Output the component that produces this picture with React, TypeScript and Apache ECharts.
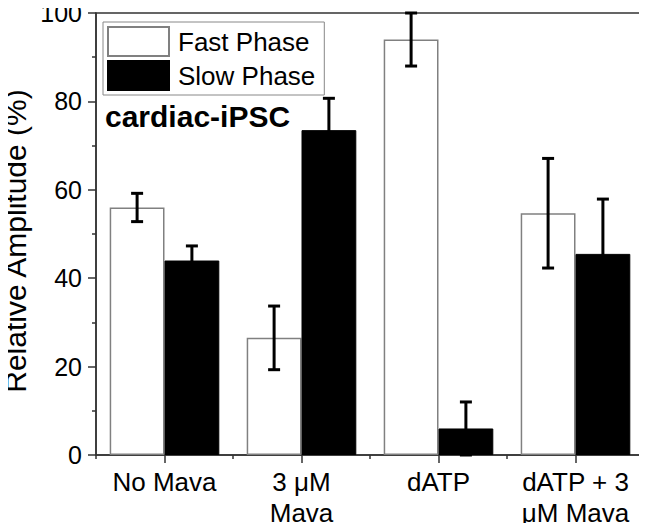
import React, { useEffect, useRef } from "react";
import * as echarts from "echarts";

const categories = ["No Mava", "3 μM\nMava", "dATP", "dATP + 3\nμM Mava"];
const fastValues = [56, 26.5, 94, 54.7];
const fastErrors = [3.2, 7.2, 6, 12.4];
const slowValues = [44, 73.5, 6, 45.5];
const slowErrors = [3.3, 7.2, 6, 12.4];
const yTicks = [0, 20, 40, 60, 80, 100];
const yAxisTitle = "Relative Amplitude (%)";
const panelTitle = "cardiac-iPSC";

const FONT = "'Liberation Sans', Arial, sans-serif";

function errorSeries(values: number[], errors: number[], side: number) {
  return {
    type: "custom",
    xAxisIndex: 0,
    yAxisIndex: 0,
    z: 5,
    silent: true,
    data: values.map((v, i) => [i, v, errors[i]]),
    renderItem: (params: any, api: any) => {
      const idx = api.value(0);
      const v = api.value(1);
      const e = api.value(2);
      const catW = api.size([1, 0])[0];
      const barW = (catW * 0.8) / 2;
      const c = api.coord([idx, v]);
      const x = c[0] + side * barW / 2;
      const top = api.coord([idx, Math.min(v + e, 100)])[1];
      const bot = api.coord([idx, Math.max(v - e, 0)])[1];
      const half = 6;
      const st = { stroke: "#000", lineWidth: 3 };
      return {
        type: "group",
        children: [
          { type: "line", shape: { x1: x, y1: top, x2: x, y2: bot }, style: st },
          { type: "line", shape: { x1: x - half, y1: top, x2: x + half, y2: top }, style: st },
          { type: "line", shape: { x1: x - half, y1: bot, x2: x + half, y2: bot }, style: st },
        ],
      };
    },
  };
}

export default function App() {
  const ref = useRef<HTMLDivElement>(null);
  useEffect(() => {
    if (!ref.current) return;
    const chart = echarts.init(ref.current, null, { renderer: "svg" });
    chart.setOption({
      animation: false,
      backgroundColor: "#fff",
      textStyle: { fontFamily: FONT },
      grid: {
        left: 96,
        right: 3,
        top: 13,
        bottom: 76,
        show: true,
        borderColor: "#333",
        borderWidth: 1.5,
        backgroundColor: "transparent",
        containLabel: false,
        outerBoundsMode: "none",
      },
      legend: {
        data: ["Fast Phase", "Slow Phase"],
        orient: "vertical",
        left: 103,
        top: 22,
        padding: [4, 9, 4, 4],
        itemWidth: 61,
        itemHeight: 29,
        itemGap: 3,
        borderColor: "#888",
        borderWidth: 1,
        icon: "rect",
        textStyle: { fontFamily: FONT, fontSize: 26, color: "#000", padding: [0, 0, 0, 4] },
      },
      graphic: [
        {
          type: "text",
          left: 105,
          top: 101,
          style: {
            text: panelTitle,
            font: "bold 30px " + FONT,
            fill: "#000",
          },
        },
        {
          type: "text",
          x: 30,
          y: 241,
          rotation: Math.PI / 2,
          style: {
            text: yAxisTitle,
            font: "30px " + FONT,
            fill: "#000",
            align: "center",
            verticalAlign: "bottom",
          },
        },
      ],
      xAxis: [
        {
          type: "category",
          data: categories,
          position: "bottom",
          axisLine: { show: true, lineStyle: { color: "#333", width: 1.5 } },
          axisTick: { show: true, length: 4, alignWithLabel: false, lineStyle: { color: "#333", width: 1.5 } },
          axisLabel: {
            fontFamily: FONT,
            fontSize: 26,
            color: "#000",
            margin: 11,
            lineHeight: 31,
            interval: 0,
          },
          splitLine: { show: false },
        },
        {
          type: "category",
          data: categories,
          position: "bottom",
          offset: 0,
          axisLine: { show: false },
          axisTick: { show: true, length: 8, alignWithLabel: true, lineStyle: { color: "#333", width: 1.5 } },
          axisLabel: { show: false },
          splitLine: { show: false },
        },
      ],
      yAxis: {
        type: "value",
        min: yTicks[0],
        max: yTicks[yTicks.length - 1],
        interval: 20,
        axisLine: { show: true, lineStyle: { color: "#333", width: 1.5 } },
        axisTick: { show: true, length: 8, lineStyle: { color: "#333", width: 1.5 } },
        minorTick: { show: true, splitNumber: 2, length: 4, lineStyle: { color: "#333", width: 1.5 } },
        axisLabel: { fontFamily: FONT, fontSize: 25, color: "#000", margin: 14 },
        splitLine: { show: false },
      },
      series: [
        {
          name: "Fast Phase",
          type: "bar",
          data: fastValues,
          barGap: "0%",
          barCategoryGap: "20%",
          itemStyle: { color: "#fff", borderColor: "#808080", borderWidth: 1.5 },
        },
        {
          name: "Slow Phase",
          type: "bar",
          data: slowValues,
          barGap: "0%",
          barCategoryGap: "20%",
          itemStyle: { color: "#000", borderColor: "#000", borderWidth: 1 },
        },
        errorSeries(fastValues, fastErrors, -1),
        errorSeries(slowValues, slowErrors, 1),
      ],
    });
    return () => chart.dispose();
  }, []);
  return <div ref={ref} style={{ width: 647, height: 531, margin: -8 }} />;
}
